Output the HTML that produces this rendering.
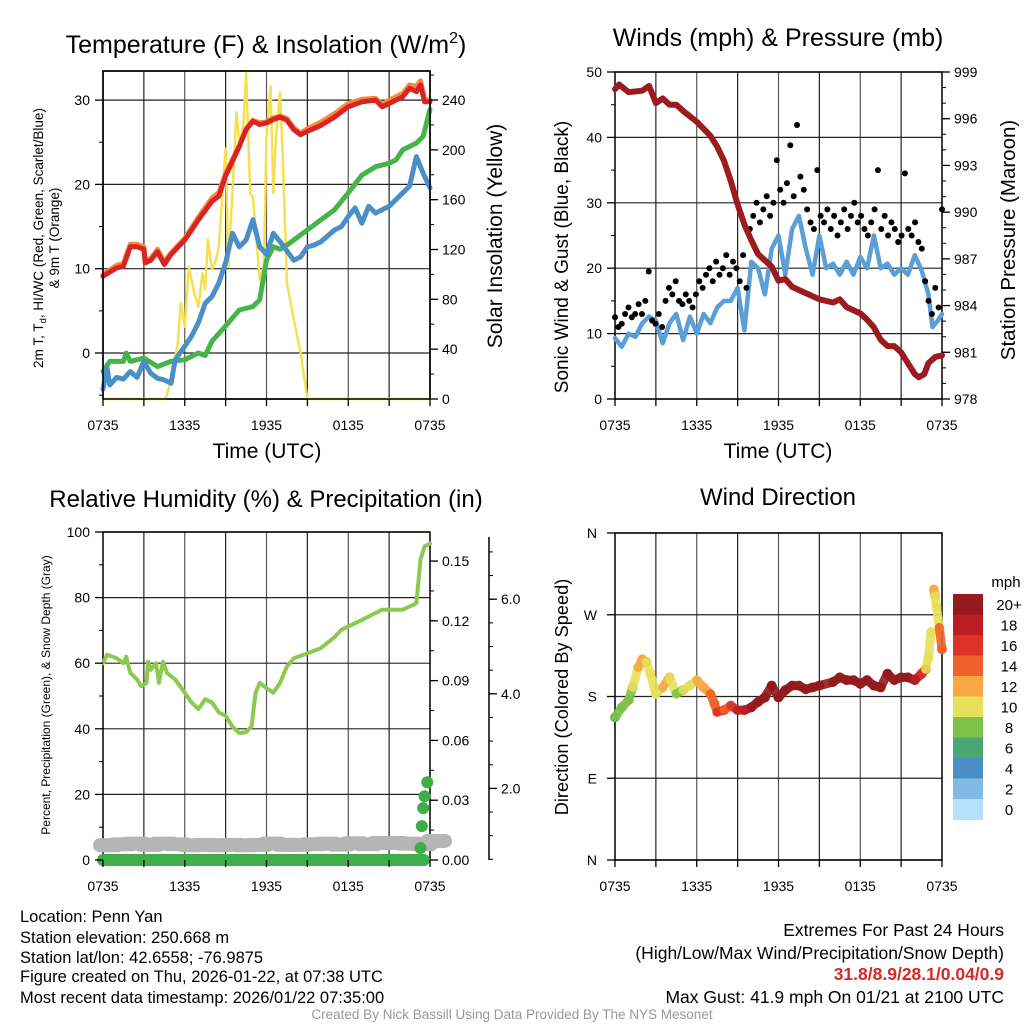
<!DOCTYPE html>
<html><head><meta charset="utf-8"><style>
html,body{margin:0;padding:0;background:#fff;}
svg{display:block;font-family:"Liberation Sans",Arial,sans-serif;}
</style></head><body>
<svg id="chart" width="1024" height="1024" viewBox="0 0 1024 1024" xmlns="http://www.w3.org/2000/svg">
<rect width="1024" height="1024" fill="#fff"/>
<g id="layer"></g>
<!-- titles -->
<text x="266" y="53" font-size="25" text-anchor="middle">Temperature (F) &amp; Insolation (W/m<tspan font-size="16" dy="-10">2</tspan><tspan dy="10">)</tspan></text>
<text x="778" y="46" font-size="25" text-anchor="middle">Winds (mph) &amp; Pressure (mb)</text>
<text x="266" y="507" font-size="24" text-anchor="middle">Relative Humidity (%) &amp; Precipitation (in)</text>
<text x="778" y="505" font-size="24" text-anchor="middle">Wind Direction</text>
<!-- axis titles -->
<text transform="translate(43,238) rotate(-90)" font-size="13.5" text-anchor="middle">2m T, T<tspan font-size="9.5" dy="3">d</tspan><tspan dy="-3">, HI/WC (Red, Green, Scarlet/Blue)</tspan></text>
<text transform="translate(59,238) rotate(-90)" font-size="13.5" text-anchor="middle">&amp; 9m T (Orange)</text>
<text transform="translate(502,236) rotate(-90)" font-size="21" text-anchor="middle">Solar Insolation (Yellow)</text>
<text x="267" y="458" font-size="21" text-anchor="middle">Time (UTC)</text>
<text transform="translate(568,257) rotate(-90)" font-size="19" text-anchor="middle">Sonic Wind &amp; Gust (Blue, Black)</text>
<text transform="translate(1015,240) rotate(-90)" font-size="20.5" text-anchor="middle">Station Pressure (Maroon)</text>
<text x="778" y="458" font-size="21" text-anchor="middle">Time (UTC)</text>
<text transform="translate(50,695) rotate(-90)" font-size="12" text-anchor="middle">Percent, Precipitation (Green), &amp; Snow Depth (Gray)</text>
<text transform="translate(568,697) rotate(-90)" font-size="18.2" text-anchor="middle">Direction (Colored By Speed)</text>
<!-- footer text -->
<g font-size="16.5">
<text x="20" y="922">Location: Penn Yan</text>
<text x="20" y="943">Station elevation: 250.668 m</text>
<text x="20" y="963">Station lat/lon: 42.6558; -76.9875</text>
<text x="20" y="982">Figure created on Thu, 2026-01-22, at 07:38 UTC</text>
<text x="20" y="1003">Most recent data timestamp: 2026/01/22 07:35:00</text>
</g>
<g font-size="17.5" text-anchor="end">
<text x="1004" y="936">Extremes For Past 24 Hours</text>
<text x="1004" y="959">(High/Low/Max Wind/Precipitation/Snow Depth)</text>
<text x="1004" y="980" fill="#d42a2a" font-weight="bold">31.8/8.9/28.1/0.04/0.9</text>
<text x="1004" y="1003">Max Gust: 41.9 mph On 01/21 at 2100 UTC</text>
</g>
<text x="512" y="1019" font-size="13.5" fill="#999" text-anchor="middle">Created By Nick Bassill Using Data Provided By The NYS Mesonet</text>
</svg>
<script>
// ---------- data ----------
const xTickLabels = ["0735","1335","1935","0135","0735"];
const tempTicks = [0,10,20,30];
const solarTicks = [0,40,80,120,160,200,240];
const windTicks = [0,10,20,30,40,50];
const presTicks = [978,981,984,987,990,993,996,999];
const rhTicks = [0,20,40,60,80,100];
const precipTicks = [0.00,0.03,0.06,0.09,0.12,0.15];
const snowTicks = [2.0,4.0,6.0];
const dirTickLabels = ["N","E","S","W","N"];
const dirTicks = [0,90,180,270,360];

const redHours = [0,1,1.5,2,2.5,3,3.1,3.5,4,4.5,5,6,7,8,8.5,9,10,10.5,11,11.5,12,12.5,13,13.5,14,14.5,15,16,17,18,19,20,20.5,21,22,22.5,23,23.3,23.6,24];
const redTemp = [9.1,10.1,10.3,12.6,12.6,12.3,10.7,11,12,10.5,11.7,13.4,15.8,18,18.6,21,24.5,26.5,27.5,27.1,27.3,27.7,28,27.6,26.5,25.9,26.3,27,28,29.2,29.8,30,29.2,29.6,30.4,31.4,31,31.8,29.8,29.8];
const orangeTemp = [9.3,10.4,10.6,12.9,12.9,12.6,11,11.2,12.3,10.8,11.9,13.6,16.1,18.4,19,21.3,24.6,26.6,27.6,27.3,27.4,27.9,28.1,27.8,26.7,26.1,26.6,27.4,28.4,29.6,30.1,30.2,29.5,30,30.8,31.8,31.6,32.3,30.1,30];
const greenHours = [0,0.5,1.5,1.7,2,3,4,5,6,7,7.5,8,9,10,11,11.5,12,12.5,13,13.5,14,15,16,17,18,19,20,21,21.5,22,23,23.5,24];
const greenTemp = [-2.2,-1,-1,0,-1,-0.6,-1.6,-1,-0.8,0,-0.3,1.4,3.2,5.1,5.5,6.3,11,12.6,12.3,12.8,13.4,14.6,15.8,17,19,21.1,22.1,22.5,22.9,24.1,24.9,25.7,28.9];
const blueHours = [0,0.3,0.5,1,1.5,2,2.5,3,3.5,4,4.5,5,5.3,6,6.5,7,7.5,8,8.5,9,9.5,10,10.5,11,11.5,12,12.5,13,14,14.5,15,15.5,16,17,17.5,18,18.5,19,19.5,20,21,22,22.5,23,23.5,24];
const blueTemp = [-4.3,-1.8,-3.8,-2.9,-3.1,-2.2,-2.9,-1,-2.4,-3,-3.2,-3.6,-0.8,0.8,2,3.6,5.9,6.7,8.3,10.7,14.2,12.6,13.4,15.8,12.6,11.7,14.2,13.2,11,11.4,12.6,12.8,13.2,14.6,15,16.2,17.2,15.4,17.4,16.6,17.4,19,19.8,23.3,21.3,19.6];
const solarHours = [0,4.6,5,5.5,5.7,6,6.3,6.7,7,7.3,7.5,7.7,8,8.3,8.5,9,9.2,9.5,9.8,10,10.3,10.5,10.8,11,11.5,11.8,12,12.3,12.5,12.7,13,13.2,13.5,14,14.5,15,24];
const solarW = [0,0,15,45,77,58,106,85,74,101,88,128,104,112,122,201,106,165,230,206,219,262,165,162,96,106,211,251,165,211,246,192,93,64,37,0,0];

const presHours = [0,0.3,1,2,2.5,3,3.5,4,4.5,5,6,7,7.5,8,8.5,9,9.5,10,10.5,11,11.5,12,12.5,13,13.5,14,15,16,16.5,17,18,18.5,19,19.5,20,20.5,21,21.5,22,22.3,22.7,23,23.5,24];
const presMb = [997.9,998.2,997.7,997.8,998.1,997,997.3,996.9,996.9,996.5,995.8,994.9,994.2,993.3,992,990.5,989.2,988.2,987.3,986.9,986.5,985.6,985.7,985.2,985,984.8,984.4,984.2,984.4,983.9,983.5,983.1,982.6,981.8,981.4,981.4,981,980.3,979.6,979.4,979.6,980.3,980.7,980.8];
const windHours = [0,0.5,1,1.5,2,2.5,3,3.5,4,4.5,5,5.5,6,6.5,7,7.5,8,8.5,9,9.5,10,10.5,11,11.5,12,12.5,13,13.5,14,14.5,15,15.5,16,16.5,17,17.5,18,18.5,19,19.5,20,20.5,21,21.5,22,22.5,23,23.3,23.7,24];
const windMph = [9.3,8,10,9.5,11.6,12.6,12,8.5,11.6,13,9,12.6,10,13,11.6,14,15,15,17,10.5,21,20,16,23,25,19,26,28,23,19,25,20,20.7,19,21,19,21.7,20,25,20,20.7,19,20,19,22,19.7,16,11,12,13];
const gustMph = [12.5,11,11.5,13,14,12.5,13,14.5,13,15,19.5,12,11.5,13,11,15,17,16,18,15,14.5,16,15,14,16,18,17,19,20,18,21,19,20,22,19,21,20,18,22,17,26,28,30,27,29,31,28,30,36.5,32,30,33,38.8,31,41.9,34,32,29,27,26,35,28,27,29,26,28,25,27,29,26,28,30,27,28,26,25,27,29,35,26,28,25,27,26,24,25,34.5,26,25,27,24,23,18,15,13,17,14,29];

const rhHours = [0,0.3,1,1.5,1.7,2,2.5,2.8,3.2,3.3,3.5,3.9,4.1,4.4,4.7,5.3,6,6.5,7,7.5,8,8.5,9,9.5,10,10.5,10.9,11.2,11.5,12,12.5,13,13.5,14,15,16,17,17.5,18,19,20,20.5,21,22,22.5,23,23.3,23.6,24];
const rhPct = [60,62.6,61.5,60,62,57,55,53,54,60.5,58,60,54,60.5,57,55,51,48,46,49,48,45,44,40.7,38.7,39,40.7,51,54,52.4,51,54,59,61.5,63,64.6,68,70.2,71.2,73.2,75.3,76.3,76.3,76.3,77.3,78.3,91.6,95.6,96.5];
const snowHours = [0,1,2,3,4,5,6,7,8,9,10,11,12,13,14,15,16,17,18,19,20,21,22,23,24];
const snowPct = [4.5,4.8,5,4.6,5,4.8,4.5,4.6,4.5,4.6,4.5,4.6,5,4.6,4.6,4.8,5,4.7,5.1,4.8,5.2,5.2,5,4.8,5.8];
const precipHours = [0,24,23.3,23.4,23.5,23.6,23.8];
const precipIn = [0,0,0.006,0.017,0.026,0.032,0.039];

const dirHours = [0,0.5,1,1.3,1.7,2,2.3,2.6,3,3.5,4,4.5,5,5.5,6,6.5,7,7.3,7.5,8,8.5,9,9.5,10,10.5,11,11.5,12,12.5,13,13.5,14,14.5,15,16,16.5,17,17.5,18,18.5,19,19.5,20,20.5,21,21.5,22,22.5,22.8,23,23.2,23.4,23.5,23.6,23.8,24];
const dirDeg = [157,168,176,190,212,221,218,205,183,190,201,183,187,192,198,190,183,172,163,165,170,165,165,168,174,179,192,179,187,192,192,188,190,192,196,201,198,198,194,198,192,190,205,198,201,201,198,205,210,223,251,298,291,278,256,232];
const dirSpeed = [7,8,8,9,10,13,12,11,10,11,12,10,9,10,11,12,12,14,15,16,15,16,19,18,20,21,22,22,21,22,22,23,22,22,23,22,22,23,22,22,22,21,21,22,22,21,21,18,17,11,10,10,12,11,10,14];
const speedLevels = [0,2,4,6,8,10,12,14,16,18,20];
const speedColors = ["#b5e2f8","#7fbae4","#4a8ec6","#4aa774","#7cc24a","#e7e05a","#f7a843","#f0622b","#dd3227","#bd1d25","#941a1d"];

// ---------- helpers ----------
const NS="http://www.w3.org/2000/svg";
const layer=document.getElementById('layer');
function mk(tag,attrs,parent){const e=document.createElementNS(NS,tag);for(const k in attrs)e.setAttribute(k,attrs[k]);(parent||layer).appendChild(e);return e;}
function txt(s,x,y,attrs){const e=mk('text',Object.assign({x:x,y:y,'font-size':14},attrs||{}));e.textContent=s;return e;}

const W=327;
function xScale(x0){return h=>x0+h*W/24;}
const P1={x0:103,x1:430,y0:71,y1:399}, P2={x0:615,x1:942,y0:72,y1:399}, P3={x0:103,x1:430,y0:532,y1:860}, P4={x0:615,x1:942,y0:533,y1:860};
const yTemp=v=>353-v*8.43, ySolar=v=>399-v*(299/240);
const yWind=v=>399-v*6.54, yPres=v=>399-(v-978)*(327/21);
const yRH=v=>860-v*3.28, yPrecip=v=>860-v*1993, ySnow=v=>883-v*47.3;
const yDir=v=>860-v*(327/360);

function frame(P,name,hGrid){
  const g=mk('g',{});
  
  
  for(let i=1;i<8;i++){const x=P.x0+i*W/8;mk('line',{x1:x,y1:P.y0,x2:x,y2:P.y1,stroke:i%2?'#222':'#555','stroke-width':1.2},g);}
  hGrid.forEach(y=>mk('line',{x1:P.x0,y1:y,x2:P.x1,y2:y,stroke:'#222','stroke-width':1.2},g));
  const b=mk('rect',{x:P.x0,y:P.y0,width:P.x1-P.x0,height:P.y1-P.y0,fill:'none',stroke:'#000','stroke-width':1.5});
  
  
}
function xAxis(P,name,labelY){
  const xs=xScale(P.x0);
  for(let i=0;i<=8;i++){const x=xs(i*3);mk('line',{x1:x,y1:P.y1,x2:x,y2:P.y1+7,stroke:'#000','stroke-width':1.3});}
  xTickLabels.forEach((s,i)=>{const t=txt(s,xs(i*6),labelY,{'text-anchor':'middle'});
    
    });
}
function yAxisLeft(P,ticks,yf,name,fmt,minor){
  ticks.forEach(v=>{const y=yf(v);mk('line',{x1:P.x0-8,y1:y,x2:P.x0,y2:y,stroke:'#000','stroke-width':1.3});
    const t=txt(fmt?fmt(v):String(v),P.x0-13,y+5,{'text-anchor':'end'});
    
    });
  (minor||[]).forEach(v=>{const y=yf(v);if(y>=P.y0&&y<=P.y1)mk('line',{x1:P.x0-4,y1:y,x2:P.x0,y2:y,stroke:'#000'});});
}
function yAxisRight(x,ticks,yf,name,fmt,minor,ymin,ymax){
  ticks.forEach(v=>{const y=yf(v);mk('line',{x1:x,y1:y,x2:x+8,y2:y,stroke:'#000','stroke-width':1.3});
    const t=txt(fmt?fmt(v):String(v),x+12,y+5,{'text-anchor':'start'});
    
    });
  (minor||[]).forEach(v=>{const y=yf(v);if(y>=ymin&&y<=ymax)mk('line',{x1:x,y1:y,x2:x+4,y2:y,stroke:'#000'});});
}
function line(hours,vals,xf,yf,color,w){
  const pts=hours.map((h,i)=>xf(h).toFixed(1)+','+yf(vals[i]).toFixed(1)).join(' ');
  return mk('polyline',{points:pts,fill:'none',stroke:color,'stroke-width':w,'stroke-linejoin':'round','stroke-linecap':'round'});
}
function range(a,b,s){const r=[];for(let v=a;v<=b+1e-9;v+=s)r.push(+v.toFixed(4));return r;}

// ---------- Panel 1 ----------
frame(P1,'temperature',tempTicks.map(yTemp));
const x1=xScale(P1.x0);
let e;
e=line(solarHours,solarW,x1,ySolar,'#f7e04f',2.5);


e=line(greenHours,greenTemp,x1,yTemp,'#45b549',5);


e=line(blueHours,blueTemp,x1,yTemp,'#4a8fc8',5);


e=line(redHours,orangeTemp,x1,yTemp,'#f58a3a',5);


e=line(redHours,redTemp,x1,yTemp,'#d92426',5);


mk('rect',{x:P1.x0,y:P1.y0,width:W,height:P1.y1-P1.y0,fill:'none',stroke:'#000','stroke-width':1.5});
yAxisLeft(P1,tempTicks,yTemp,'temperature-y',null,[-5,5,15,25]);
yAxisRight(P1.x1,solarTicks,ySolar,'solar-y',null,range(0,260,20),P1.y0,P1.y1);
xAxis(P1,'temperature',430);

// ---------- Panel 2 ----------
frame(P2,'winds',windTicks.map(yWind));
const x2=xScale(P2.x0);
e=line(windHours,windMph,x2,yWind,'#5a9fd6',4.5);


const gg=mk('g',{fill:'#000'});


gustMph.forEach((v,i)=>{const c=mk('circle',{cx:x2(i*24/(gustMph.length-1)),cy:yWind(v),r:3},gg);
  
  });
e=line(presHours,presMb,x2,yPres,'#9b1b1e',6);


yAxisLeft(P2,windTicks,yWind,'wind-y',null,[5,15,25,35,45]);
yAxisRight(P2.x1,presTicks,yPres,'pressure-y',null,range(978,999,1),P2.y0,P2.y1);
xAxis(P2,'winds',430);

// ---------- Panel 3 ----------
frame(P3,'humidity',rhTicks.map(yRH));
const x3=xScale(P3.x0);
const sg=mk('g',{fill:'#b5b5b5'});


snowHours.forEach((h,i)=>{mk('rect',{x:x3(h)-10,y:yRH(snowPct[i])-7,width:32,height:14,rx:7},sg);});
const pg=mk('g',{fill:'#3fae49'});


mk('rect',{x:x3(precipHours[0])-6,y:yPrecip(precipIn[0])-6,width:x3(precipHours[1])-x3(precipHours[0])+6,height:12,rx:6},pg);
precipHours.slice(2).forEach((h,i)=>{mk('circle',{cx:x3(h),cy:yPrecip(precipIn[i+2]),r:6},pg);});
e=line(rhHours,rhPct,x3,yRH,'#8dc850',4);


yAxisLeft(P3,rhTicks,yRH,'humidity-y',null,range(10,90,20));
yAxisRight(P3.x1,precipTicks,yPrecip,'precip-y',v=>v.toFixed(2),range(0,0.16,0.015),P3.y0,P3.y1);
mk('line',{x1:489,y1:537,x2:489,y2:860,stroke:'#000','stroke-width':1.5});
yAxisRight(489,snowTicks,ySnow,'snow-depth-y',v=>v.toFixed(1),range(0.5,7,0.5),537,860);
xAxis(P3,'humidity',891);

// ---------- Panel 4 ----------
frame(P4,'wind-direction',dirTicks.map(yDir));
const x4=xScale(P4.x0);
function speedColor(s){let i=0;for(let k=0;k<speedLevels.length;k++)if(s>=speedLevels[k])i=k;return speedColors[i];}
const dg=mk('g',{});


dirHours.forEach((h,i)=>{
  if(i>0 && h>dirHours[i-1] && Math.abs(dirDeg[i]-dirDeg[i-1])<30){
    mk('line',{x1:x4(dirHours[i-1]),y1:yDir(dirDeg[i-1]),x2:x4(h),y2:yDir(dirDeg[i]),stroke:speedColor(dirSpeed[i]),'stroke-width':9,'stroke-linecap':'round',opacity:0.9},dg);
  }
  const c=mk('circle',{cx:x4(h),cy:yDir(dirDeg[i]),r:5,fill:speedColor(dirSpeed[i]),opacity:0.9},dg);
  
  
});
dirTicks.forEach((v,i)=>{const y=yDir(v);mk('line',{x1:P4.x0-8,y1:y,x2:P4.x0,y2:y,stroke:'#000','stroke-width':1.3});
  const t=txt(dirTickLabels[i],P4.x0-18,y+5,{'text-anchor':'end'});
  
  });
xAxis(P4,'wind-direction',891);

// colorbar
const cb=mk('g',{});


const cbTop=594, cbH=20.5;
speedColors.slice().reverse().forEach((c,i)=>{mk('rect',{x:953,y:cbTop+i*cbH,width:30,height:cbH+0.5,fill:c},cb);});
speedLevels.slice().reverse().forEach((v,i)=>{const t=txt(v===20?'20+':String(v),1009,cbTop+i*cbH+16,{'text-anchor':'middle','font-size':15});
  
  });
e=txt('mph',1006,587,{'text-anchor':'middle','font-size':15});


</script>
</body></html>
